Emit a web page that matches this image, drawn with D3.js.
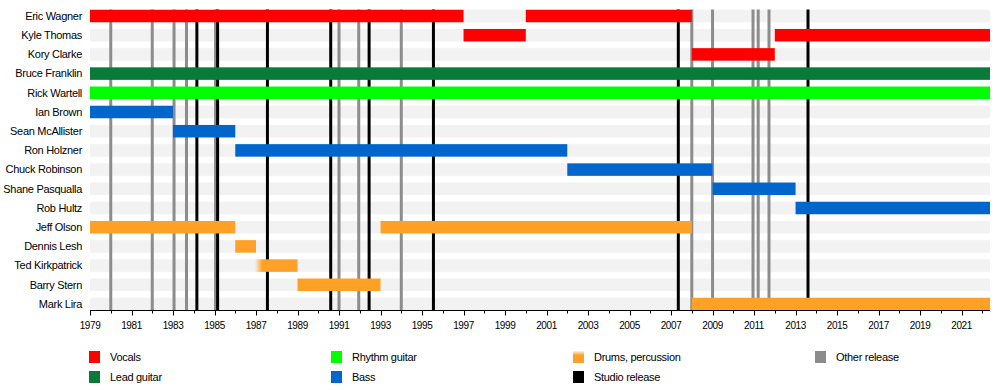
<!DOCTYPE html>
<html>
<head>
<meta charset="utf-8">
<script src="https://cdn.jsdelivr.net/npm/d3@7"></script>
<style>
  html, body { margin: 0; padding: 0; background: #fff; }
  svg { display: block; font-family: "Liberation Sans", Arial, sans-serif; }
</style>
</head>
<body>
<div id="chart"></div>
<script>
// Members, top to bottom
const members = [
  'Eric Wagner', 'Kyle Thomas', 'Kory Clarke', 'Bruce Franklin', 'Rick Wartell',
  'Ian Brown', 'Sean McAllister', 'Ron Holzner', 'Chuck Robinson', 'Shane Pasqualla',
  'Rob Hultz', 'Jeff Olson', 'Dennis Lesh', 'Ted Kirkpatrick', 'Barry Stern', 'Mark Lira'
];

const END = 2022.37;

// Tenures: [member, role, from, to]
const tenures = [
  ['Eric Wagner', 'vocals', 1979, 1997],
  ['Eric Wagner', 'vocals', 2000, 2008],
  ['Kyle Thomas', 'vocals', 1997, 2000],
  ['Kyle Thomas', 'vocals', 2012, END],
  ['Kory Clarke', 'vocals', 2008, 2012],
  ['Bruce Franklin', 'lead', 1979, END],
  ['Rick Wartell', 'rhythm', 1979, END],
  ['Ian Brown', 'bass', 1979, 1983],
  ['Sean McAllister', 'bass', 1983, 1986],
  ['Ron Holzner', 'bass', 1986, 2002],
  ['Chuck Robinson', 'bass', 2002, 2009],
  ['Shane Pasqualla', 'bass', 2009, 2013],
  ['Rob Hultz', 'bass', 2013, END],
  ['Jeff Olson', 'drums', 1979, 1986],
  ['Jeff Olson', 'drums', 1993, 2008],
  ['Dennis Lesh', 'drums', 1986, 1987],
  ['Ted Kirkpatrick', 'drumsFade', 1986.95, 1989],
  ['Barry Stern', 'drums', 1989, 1993],
  ['Mark Lira', 'drums', 2008, END]
];

// Release markers
const studioReleases = [1984.15, 1985.15, 1987.55, 1990.6, 1992.45, 1995.55, 2007.35, 2013.6];
const otherReleases = [1980.0, 1982.0, 1983.05, 1983.65, 1985.05, 1991.0, 1991.95, 1994.0,
                       2008.0, 2009.0, 2010.95, 2011.2, 2011.72];

const tickYears = d3.range(1979, 2023);
const labelYears = d3.range(1979, 2023, 2);

const legendItems = [
  ['vocals', 'Vocals'], ['lead', 'Lead guitar'],
  ['rhythm', 'Rhythm guitar'], ['bass', 'Bass'],
  ['drums', 'Drums, percussion'], ['studio', 'Studio release'],
  ['other', 'Other release']
];

const colors = {
  vocals: '#ff0000',
  lead: '#0a7a3a',
  rhythm: '#00ff00',
  bass: '#0066cc',
  drums: '#ffa126',
  drumsFade: 'url(#fadeIn)',
  studio: '#000000',
  other: '#8c8c8c'
};

const W = 1000, H = 390;
const x0 = 90, x1 = 990;

const svg = d3.select('#chart').append('svg')
  .attr('width', W).attr('height', H);

const defs = svg.append('defs');
const grad = defs.append('linearGradient').attr('id', 'fadeIn')
  .attr('x1', '0').attr('x2', '1').attr('y1', '0').attr('y2', '0');
grad.append('stop').attr('offset', '0%').attr('stop-color', '#ffa126').attr('stop-opacity', 0);
grad.append('stop').attr('offset', '17%').attr('stop-color', '#ffa126').attr('stop-opacity', 1);
grad.append('stop').attr('offset', '100%').attr('stop-color', '#ffa126').attr('stop-opacity', 1);

const gradV = defs.append('linearGradient').attr('id', 'fadeDown')
  .attr('x1', '0').attr('x2', '0').attr('y1', '0').attr('y2', '1');
gradV.append('stop').attr('offset', '0%').attr('stop-color', '#ffa126').attr('stop-opacity', 0.15);
gradV.append('stop').attr('offset', '35%').attr('stop-color', '#ffa126').attr('stop-opacity', 1);
gradV.append('stop').attr('offset', '100%').attr('stop-color', '#ffa126').attr('stop-opacity', 1);

const x = d3.scaleLinear().domain([1979, END]).range([x0, x1]);
const y = d3.scalePoint().domain(members).range([16, 304]);
const barH = 12.5;
const plotTop = 9.5, plotBottom = 310.5;

// background rows
svg.append('g').selectAll('rect')
  .data(members)
  .join('rect')
  .attr('x', x(1979))
  .attr('width', x(END) - x(1979))
  .attr('y', d => y(d) - barH / 2)
  .attr('height', barH)
  .attr('fill', '#f2f2f2');

// release lines
const lines = svg.append('g');
lines.selectAll('.other')
  .data(otherReleases)
  .join('line')
  .attr('class', 'other')
  .attr('x1', d => x(d)).attr('x2', d => x(d))
  .attr('y1', plotTop).attr('y2', plotBottom)
  .attr('stroke', colors.other).attr('stroke-width', 3);
lines.selectAll('.studio')
  .data(studioReleases)
  .join('line')
  .attr('class', 'studio')
  .attr('x1', d => x(d)).attr('x2', d => x(d))
  .attr('y1', plotTop).attr('y2', plotBottom)
  .attr('stroke', colors.studio).attr('stroke-width', 3);

// tenure bars
svg.append('g').selectAll('rect')
  .data(tenures)
  .join('rect')
  .attr('x', d => x(d[2]))
  .attr('width', d => x(d[3]) - x(d[2]))
  .attr('y', d => y(d[0]) - barH / 2)
  .attr('height', barH)
  .attr('fill', d => colors[d[1]]);

// member names
svg.append('g').selectAll('text')
  .data(members)
  .join('text')
  .attr('x', 82)
  .attr('y', d => y(d))
  .attr('dy', '0.35em')
  .attr('text-anchor', 'end')
  .attr('font-size', '11px')
  .attr('letter-spacing', '-0.3px')
  .attr('fill', '#000')
  .text(d => d);

// axis
const axis = svg.append('g').attr('transform', `translate(0,${plotBottom})`);
axis.append('line')
  .attr('x1', x0).attr('x2', x1)
  .attr('stroke', '#000').attr('stroke-width', 1);
axis.selectAll('.tick')
  .data(tickYears)
  .join('line')
  .attr('class', 'tick')
  .attr('x1', d => Math.round(x(d)) + 0.5).attr('x2', d => Math.round(x(d)) + 0.5)
  .attr('y1', 0)
  .attr('y2', d => (d - 1979) % 2 === 0 ? 5 : 3)
  .attr('stroke', '#000');
axis.selectAll('.lbl')
  .data(labelYears)
  .join('text')
  .attr('class', 'lbl')
  .attr('x', d => x(d))
  .attr('y', 18)
  .attr('text-anchor', 'middle')
  .attr('font-size', '10px')
  .attr('letter-spacing', '-0.4px')
  .text(d => d);

// legend
const legend = svg.append('g');
legendItems.forEach(([key, label], i) => {
  const col = Math.floor(i / 2), row = i % 2;
  const gx = 89 + col * 242, gy = 357 + row * 20;
  legend.append('rect')
    .attr('x', gx).attr('y', gy - 6)
    .attr('width', 11).attr('height', 12)
    .attr('fill', key === 'drums' ? 'url(#fadeDown)' : colors[key]);
  legend.append('text')
    .attr('x', gx + 21).attr('y', gy)
    .attr('dy', '0.35em')
    .attr('font-size', '11px')
    .attr('letter-spacing', '-0.3px')
    .text(label);
});
</script>
</body>
</html>
